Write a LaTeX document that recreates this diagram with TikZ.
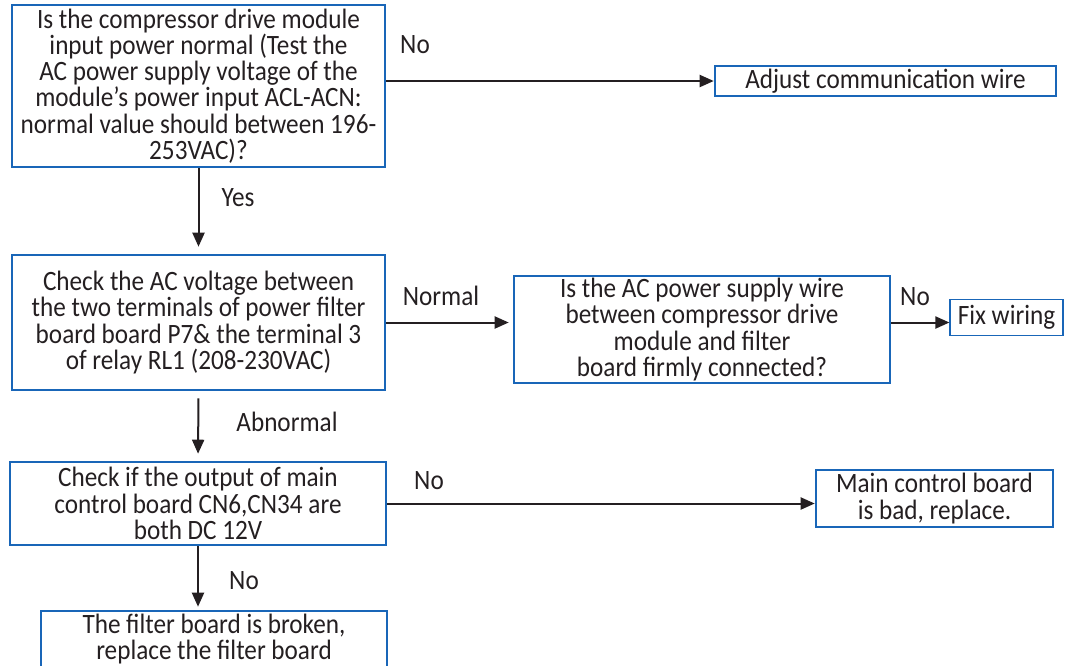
\documentclass[tikz,border=0pt]{standalone}
\usepackage{fontspec}
\setmainfont{Carlito}[FakeStretch=0.9]
\usetikzlibrary{arrows.meta}
\definecolor{boxblue}{rgb}{0.10,0.40,0.72}
\definecolor{textgray}{rgb}{0.14,0.12,0.13}

\begin{document}
\begin{tikzpicture}[x=0.5pt,y=-0.5pt,
    every node/.style={font=\fontsize{14}{13.1}\selectfont,text=textgray},
    flowbox/.style={draw=boxblue,line width=1.3pt,inner sep=0pt,align=center},
    flowarrow/.style={draw=textgray,line width=1pt,-{Triangle[length=7pt,width=6pt]}}]
      \useasboundingbox (0,0) rectangle (1074,665);
      \node[flowbox,minimum width=186.5pt,minimum height=81pt] (inpower) at (198.5,86)
        {Is the compressor drive module\\input power normal (Test the\\AC power supply voltage of the\\module's power input ACL-ACN:\\normal value should between 196-\\253VAC)?};
      \node[flowbox,minimum width=170.5pt,minimum height=15pt] (adjwire) at (885.5,81)
        {Adjust communication wire};
      \node[flowbox,minimum width=186.5pt,minimum height=67.5pt] (acvolt) at (198.5,322.5)
        {Check the AC voltage between\\the two terminals of power filter\\board board P7\& the terminal 3\\of relay RL1 (208-230VAC)};
      \node[flowbox,minimum width=188pt,minimum height=53.5pt] (wirecon) at (702,329.5)
        {Is the AC power supply wire\\between compressor drive\\module and filter\\board firmly connected?};
      \node[flowbox,line width=0.6pt,minimum width=56.5pt,minimum height=18pt] (fixwire) at (1006.5,317.5)
        {Fix wiring};
      \node[flowbox,minimum width=188pt,minimum height=41.5pt] (dcout) at (198,503.5)
        {Check if the output of main\\control board CN6,CN34 are\\both DC 12V};
      \node[flowbox,minimum width=118.5pt,minimum height=28.5pt] (mainbad) at (934.5,498.5)
        {Main control board\\is bad, replace.};
      \node[flowbox,minimum width=173pt,minimum height=28pt] (filterbad) at (214,639)
        {The filter board is broken,\\replace the filter board};
      \draw[flowarrow] (inpower.east |- adjwire.west) -- (adjwire.west);
      \draw[flowarrow,shorten >=3.5pt] (inpower.south) -- (acvolt.north);
      \draw[flowarrow,shorten >=2pt] (acvolt.east) -- (acvolt.east -| wirecon.west);
      \draw[flowarrow] (wirecon.east |- acvolt.east) -- (fixwire.west |- acvolt.east);
      \draw[flowarrow,shorten <=3.5pt,shorten >=3.5pt] (acvolt.south) -- (dcout.north);
      \draw[flowarrow] (dcout.east) -- (mainbad.west |- dcout.east);
      \draw[flowarrow,shorten >=1.5pt] (dcout.south) -- (dcout.south |- filterbad.north);
      \node (no1) at (415,45) {No};
      \node (yes1) at (238,198) {Yes};
      \node (normal1) at (441,296) {Normal};
      \node (no2) at (915,297) {No};
      \node (abnormal1) at (287,422) {Abnormal};
      \node (no3) at (429,481) {No};
      \node (no4) at (244,581) {No};
    \end{tikzpicture}
\end{document}
